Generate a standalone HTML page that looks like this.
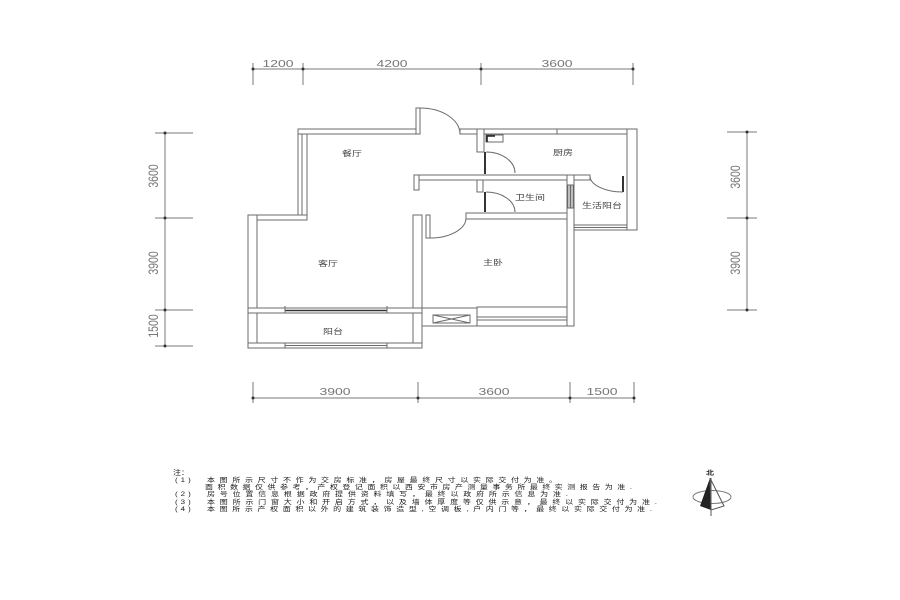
<!DOCTYPE html>
<html><head><meta charset="utf-8"><style>
html,body{margin:0;padding:0;background:#fff;}
svg{display:block;}
.w{fill:#fff;stroke:#6b6b6b;stroke-width:1;}
.d{stroke:#7a7a7a;stroke-width:1;fill:none;}
.a{stroke:#6b6b6b;stroke-width:1;fill:none;}
.num{font-family:"Liberation Sans",sans-serif;font-size:14px;fill:#777;}
.rm{font-family:"Liberation Sans","Noto Sans CJK SC",sans-serif;font-size:10px;fill:#444;}
.nt{font-family:"Liberation Sans","Noto Sans CJK SC",sans-serif;font-size:8px;fill:#1a1a1a;}
</style></head><body>
<svg width="900" height="600" viewBox="0 0 900 600" xmlns="http://www.w3.org/2000/svg">
<rect width="900" height="600" fill="#fff"/>

<!-- top dims -->
<line class="d" x1="253" y1="69" x2="634" y2="69"/>
<line class="d" x1="253" y1="63" x2="253" y2="85"/>
<line class="d" x1="303" y1="63" x2="303" y2="85"/>
<line class="d" x1="481" y1="63" x2="481" y2="85"/>
<line class="d" x1="633" y1="63" x2="633" y2="85"/>
<g fill="#333"><circle cx="253" cy="69" r="1.5"/><circle cx="303" cy="69" r="1.5"/><circle cx="481" cy="69" r="1.5"/><circle cx="633" cy="69" r="1.5"/></g>
<text class="num" text-anchor="middle" transform="translate(278,67) scale(1,0.75)">1200</text>
<text class="num" text-anchor="middle" transform="translate(392,67) scale(1,0.75)">4200</text>
<text class="num" text-anchor="middle" transform="translate(557,67) scale(1,0.75)">3600</text>

<!-- bottom dims -->
<line class="d" x1="253" y1="398" x2="634" y2="398"/>
<line class="d" x1="253" y1="382" x2="253" y2="403"/>
<line class="d" x1="418" y1="382" x2="418" y2="403"/>
<line class="d" x1="570" y1="382" x2="570" y2="403"/>
<line class="d" x1="634" y1="382" x2="634" y2="403"/>
<g fill="#333"><circle cx="253" cy="398" r="1.5"/><circle cx="418" cy="398" r="1.5"/><circle cx="570" cy="398" r="1.5"/><circle cx="634" cy="398" r="1.5"/></g>
<text class="num" text-anchor="middle" transform="translate(335,395) scale(1,0.75)">3900</text>
<text class="num" text-anchor="middle" transform="translate(494,395) scale(1,0.75)">3600</text>
<text class="num" text-anchor="middle" transform="translate(602,395) scale(1,0.75)">1500</text>

<!-- left dims -->
<line class="d" x1="165" y1="132" x2="165" y2="347"/>
<line class="d" x1="155" y1="133" x2="193" y2="133"/>
<line class="d" x1="155" y1="218" x2="193" y2="218"/>
<line class="d" x1="155" y1="310" x2="193" y2="310"/>
<line class="d" x1="155" y1="346" x2="193" y2="346"/>
<g fill="#333"><circle cx="165" cy="133" r="1.5"/><circle cx="165" cy="218" r="1.5"/><circle cx="165" cy="310" r="1.5"/><circle cx="165" cy="346" r="1.5"/></g>
<text class="num" text-anchor="middle" transform="translate(158,176) scale(1,0.75) rotate(-90)">3600</text>
<text class="num" text-anchor="middle" transform="translate(158,263) scale(1,0.75) rotate(-90)">3900</text>
<text class="num" text-anchor="middle" transform="translate(158,326) scale(1,0.75) rotate(-90)">1500</text>

<!-- right dims -->
<line class="d" x1="747" y1="131" x2="747" y2="311"/>
<line class="d" x1="727" y1="132" x2="757" y2="132"/>
<line class="d" x1="727" y1="218" x2="757" y2="218"/>
<line class="d" x1="727" y1="310" x2="757" y2="310"/>
<g fill="#333"><circle cx="747" cy="132" r="1.5"/><circle cx="747" cy="218" r="1.5"/><circle cx="747" cy="310" r="1.5"/></g>
<text class="num" text-anchor="middle" transform="translate(740,177) scale(1,0.75) rotate(-90)">3600</text>
<text class="num" text-anchor="middle" transform="translate(740,263) scale(1,0.75) rotate(-90)">3900</text>

<!-- walls -->
<rect class="w" x="298" y="129" width="9" height="86"/>
<line class="a" x1="302" y1="134" x2="302" y2="215"/>
<rect class="w" x="298" y="129" width="120" height="5"/>
<rect class="w" x="460" y="129" width="177" height="5"/>
<line class="a" x1="557" y1="129" x2="557" y2="134"/>
<rect class="w" x="627" y="129" width="10" height="101"/>
<rect class="w" x="477" y="129" width="7" height="23"/>
<rect class="w" x="414" y="175" width="176" height="5"/>
<rect class="w" x="414" y="175" width="5" height="15"/>
<rect class="w" x="477" y="180" width="6" height="12"/>
<rect class="w" x="466" y="213" width="108" height="6"/>
<rect class="w" x="567" y="175" width="7" height="151"/>
<rect x="567.5" y="185" width="6" height="23" fill="#bdbdbd" stroke="#666" stroke-width="1"/>
<line class="a" x1="570.5" y1="185" x2="570.5" y2="208"/>
<rect class="w" x="574" y="225" width="53" height="5"/>
<line class="a" x1="574" y1="227.5" x2="627" y2="227.5"/>

<rect class="w" x="248" y="215" width="59" height="5"/>
<rect class="w" x="248" y="215" width="9" height="133"/>
<rect class="w" x="413" y="215" width="9" height="133"/>
<rect class="w" x="248" y="308" width="174" height="5"/>
<line x1="285" y1="310.5" x2="387" y2="310.5" stroke="#333" stroke-width="1.6"/>
<line class="a" x1="285" y1="306" x2="285" y2="313"/>
<line class="a" x1="387" y1="306" x2="387" y2="313"/>
<rect class="w" x="248" y="343" width="174" height="5"/>
<line class="a" x1="285" y1="345.5" x2="387" y2="345.5"/>
<line class="a" x1="285" y1="343" x2="285" y2="348"/>
<line class="a" x1="387" y1="343" x2="387" y2="348"/>

<!-- bedroom bottom -->
<rect class="w" x="422" y="308" width="55" height="18"/>
<rect class="w" x="433" y="315" width="37" height="8"/>
<line class="a" x1="433" y1="315" x2="470" y2="323"/>
<line class="a" x1="433" y1="323" x2="470" y2="315"/>
<rect class="w" x="477" y="307" width="90" height="19"/>
<line class="a" x1="477" y1="317" x2="567" y2="317"/>
<line class="a" x1="477" y1="320" x2="567" y2="320"/>

<!-- doors -->
<rect class="w" x="416" y="108" width="4" height="26"/>
<path class="a" d="M420,108 A40,26 0 0,1 460,134"/>
<line x1="485" y1="152" x2="485" y2="174" stroke="#333" stroke-width="2"/>
<path class="a" d="M486,152 A29,21 0 0,1 515,173"/>
<line x1="485" y1="192" x2="485" y2="212" stroke="#333" stroke-width="2"/>
<path class="a" d="M486,192 A29,20 0 0,1 515,212"/>
<line x1="623" y1="176" x2="623" y2="192" stroke="#333" stroke-width="2"/>
<path class="a" d="M590,176 A33,16 0 0,0 623,192"/>
<rect class="w" x="426" y="215" width="4" height="23"/>
<path class="a" d="M430,238 A36,20 0 0,0 466,218"/>

<!-- fridge -->
<rect class="w" x="486" y="135" width="17" height="7"/>
<path d="M487,142 L487,136 L495,136" stroke="#222" stroke-width="1.6" fill="none"/>

<!-- room labels -->
<text class="rm" text-anchor="middle" transform="translate(352,156) scale(1,0.75)">餐厅</text>
<text class="rm" text-anchor="middle" transform="translate(563,155) scale(1,0.75)">厨房</text>
<text class="rm" text-anchor="middle" transform="translate(530,200) scale(1,0.75)">卫生间</text>
<text class="rm" text-anchor="middle" transform="translate(602,208) scale(1,0.75)">生活阳台</text>
<text class="rm" text-anchor="middle" transform="translate(328,266) scale(1,0.75)">客厅</text>
<text class="rm" text-anchor="middle" transform="translate(493,265) scale(1,0.75)">主卧</text>
<text class="rm" text-anchor="middle" transform="translate(333,334) scale(1,0.75)">阳台</text>

<!-- notes -->
<text class="nt" transform="translate(173,474.5) scale(1,0.8)">注：</text>
<text class="nt" transform="translate(175,482) scale(1,0.8)" letter-spacing="3">(1)</text>
<text class="nt" transform="translate(207,482) scale(1,0.8)" textLength="350">本图所示尺寸不作为交房标准，房屋最终尺寸以实际交付为准。</text>
<text class="nt" transform="translate(205,489) scale(1,0.8)" textLength="427">面积数据仅供参考，产权登记面积以西安市房产测量事务所最终实测报告为准.</text>
<text class="nt" transform="translate(175,496) scale(1,0.8)" letter-spacing="3">(2)</text>
<text class="nt" transform="translate(207,496) scale(1,0.8)" textLength="361">房号位置信息根据政府提供资料填写，最终以政府所示信息为准.</text>
<text class="nt" transform="translate(175,504) scale(1,0.8)" letter-spacing="3">(3)</text>
<text class="nt" transform="translate(207,504) scale(1,0.8)" textLength="450">本图所示门窗大小和开启方式，以及墙体厚度等仅供示意，最终以实际交付为准.</text>
<text class="nt" transform="translate(175,511) scale(1,0.8)" letter-spacing="3">(4)</text>
<text class="nt" transform="translate(207,511) scale(1,0.8)" textLength="445">本图所示产权面积以外的建筑装饰造型,空调板,户内门等，最终以实际交付为准.</text>

<!-- north arrow -->
<text class="nt" text-anchor="middle" font-weight="bold" transform="translate(710,475) scale(1,0.75)">北</text>
<ellipse cx="712" cy="497" rx="19" ry="6.5" fill="none" stroke="#777" stroke-width="1"/>
<polygon points="710,478 700,506 711,510" fill="#222"/>
<polygon points="710,478 724,506 711,510" fill="none" stroke="#555" stroke-width="1"/>
<line x1="711" y1="478" x2="711" y2="516" stroke="#555" stroke-width="1"/>
</svg>
</body></html>
